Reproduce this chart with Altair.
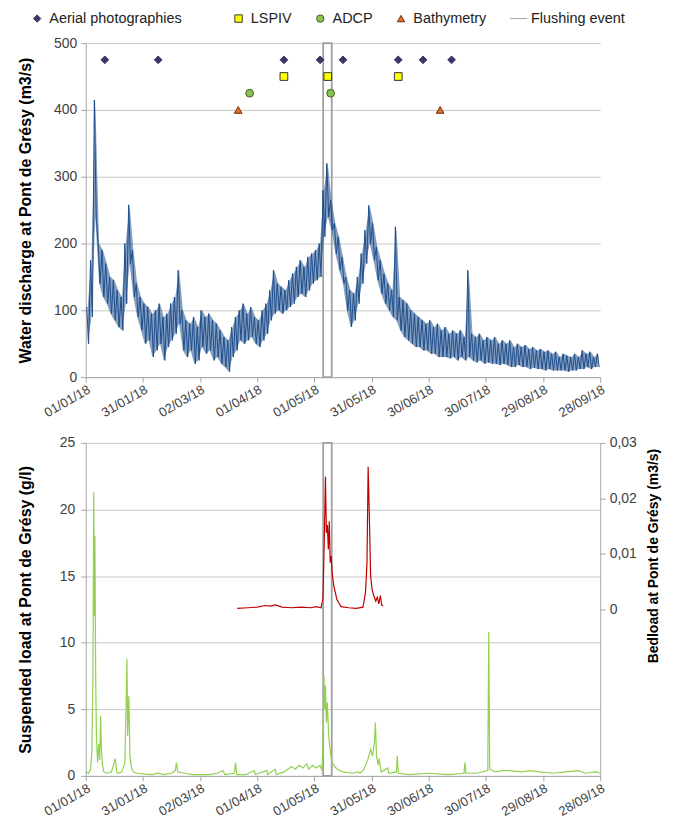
import altair as alt
import pandas as pd

# ---------------- data (x = days since 01/01/18) ----------------
# Water discharge: high / low envelope read for each 2-day block (m3/s)
Q_HIGH = [105, 175, 415, 200, 190, 170, 150, 145, 130, 120,
          200, 258, 190, 140, 120, 110, 105, 95, 100, 110,
          90, 95, 110, 120, 160, 100, 85, 80, 90, 75,
          100, 90, 95, 85, 80, 70, 60, 55, 75, 90,
          100, 110, 95, 105, 90, 85, 100, 110, 130, 160,
          140, 135, 130, 145, 155, 165, 175, 165, 180, 185,
          190, 200, 280, 320, 265, 230, 210, 180, 150, 130,
          125, 150, 185, 220, 257, 230, 195, 175, 155, 140,
          130, 225, 120, 115, 110, 100, 95, 90, 85, 80,
          85, 75, 80, 70, 75, 65, 70, 65, 70, 60,
          160, 65, 60, 65, 55, 60, 55, 60, 50, 55,
          50, 55, 45, 50, 45, 48, 42, 45, 40, 42,
          38, 40, 35, 38, 30, 35, 32, 30, 35, 30,
          40, 35, 38, 30, 35]
Q_LOW = [50, 90, 240, 140, 120, 110, 95, 85, 75, 70,
         110, 170, 120, 90, 70, 50, 55, 30, 40, 50,
         25, 45, 55, 65, 80, 40, 30, 40, 20, 25,
         45, 35, 40, 25, 30, 20, 15, 8, 30, 40,
         55, 50, 55, 60, 50, 45, 55, 65, 85, 95,
         100, 95, 100, 105, 110, 120, 125, 120, 130, 140,
         145, 150, 210, 240, 220, 185, 160, 140, 100, 75,
         85, 110, 140, 170, 200, 175, 145, 125, 110, 100,
         90, 85, 70, 60, 55, 50, 45, 45, 40, 40,
         35, 35, 30, 30, 30, 28, 30, 25, 30, 25,
         30, 25, 22, 25, 20, 22, 20, 20, 18, 20,
         18, 15, 15, 18, 15, 15, 12, 14, 12, 12,
         10, 12, 10, 10, 10, 10, 8, 10, 10, 12,
         12, 15, 12, 15, 15]

# Suspended load (g/l)
SS_DAY = [0, 1.5, 2.5, 3.2, 3.8, 4.2, 4.5, 4.8, 5.2, 5.6, 6.2, 6.8, 7.3, 7.8, 8.2,
          8.8, 9.5, 11, 13.5, 15.5, 16.2, 17, 19, 20.5, 21.2, 21.6, 22.0, 22.6, 23.2,
          24, 25, 27, 30, 35, 38, 41, 45, 47, 47.6, 48.2, 52, 56, 60, 65, 69, 72,
          73, 78, 78.6, 79.3, 84, 88.5, 89, 95, 95.5, 99.4, 100, 104, 106, 108, 110,
          112, 114, 116, 117, 119, 121, 123, 124, 124.5, 125, 125.4, 125.8, 126.3,
          126.8, 127.5, 128.2, 129, 130, 132, 135, 140, 143, 144, 146, 148, 149.5,
          150.5, 151.5, 152, 152.6, 153.5, 154, 155, 158.5, 159, 163, 163.5, 164,
          170, 180, 190, 198.5, 199, 199.5, 205, 211, 211.5, 212, 215, 219, 222,
          229, 233, 238, 245, 252, 258.5, 262, 268, 270]
SS_VAL = [0.3, 0.2, 0.5, 1.8, 8, 21.3, 12, 18, 7.5, 3, 1, 2.4, 1.2, 4.5, 2,
          0.8, 0.3, 0.2, 0.3, 1.3, 0.3, 0.2, 0.3, 1, 5.5, 8.8, 3, 6, 1.5,
          0.6, 0.3, 0.2, 0.15, 0.1, 0.2, 0.1, 0.2, 0.4, 1.0, 0.3, 0.2, 0.1, 0.1, 0.1, 0.2, 0.4,
          0.1, 0.2, 1.0, 0.1, 0.1, 0.4, 0.1, 0.4, 0.1, 0.5, 0.1, 0.3, 0.5, 0.7, 0.5,
          0.8, 0.6, 0.9, 0.5, 0.8, 0.6, 0.8, 0.4, 2.5, 7.5, 5, 6.8, 4,
          5.5, 3, 2, 1.2, 0.8, 0.5, 0.3, 0.2, 0.3, 0.2, 0.5, 1.2, 2.0,
          1.5, 2.5, 4.0, 1.5, 0.8, 1.3, 0.3, 0.6, 0.2, 0.3, 1.5, 0.2,
          0.1, 0.2, 0.1, 0.2, 1.0, 0.2, 0.2, 0.4, 10.8, 0.5, 0.3, 0.4, 0.4,
          0.3, 0.4, 0.3, 0.2, 0.3, 0.4, 0.2, 0.3, 0.2]

# Bedload (m3/s)
BL_DAY = [79.5, 85, 90, 94, 97, 99.5, 103, 108, 113, 118, 121, 123.5, 124.5, 125.3,
          125.8, 126.3, 126.8, 127.3, 127.8, 128.3, 128.8, 129.3, 130.2, 131, 131.8,
          132.6, 134, 138, 142, 145.5, 146.8, 147.6, 148.2, 148.8, 149.5, 150.3,
          151.2, 152.2, 153, 153.8, 154.6, 155.3, 156]
BL_VAL = [0.0002, 0.0003, 0.0004, 0.0007, 0.0006, 0.0008, 0.0004, 0.0003, 0.0004,
          0.0003, 0.0005, 0.0003, 0.002, 0.0144, 0.0239, 0.0138, 0.0152, 0.0108,
          0.0159, 0.0084, 0.0096, 0.0066, 0.0042, 0.003, 0.0018, 0.0013, 0.0005,
          0.0003, 0.0002, 0.0004, 0.003, 0.0084, 0.0257, 0.0174, 0.006, 0.0035,
          0.0024, 0.0015, 0.0022, 0.001, 0.0025, 0.0008, 0.0006]

# Field campaigns (day, plotted level)
AERIAL_DAY = [10, 38, 104, 123, 135, 164, 177, 192]
LSPIV_DAY = [104, 127, 164]
ADCP_DAY = [86, 128.5]
BATHY_DAY = [80, 186]
LEVELS = {"Aerial photographies": 475, "LSPIV": 450, "ADCP": 425, "Bathymetry": 400}

FLUSH_START = 124.6
FLUSH_END = 129.1

TYPES_A = ["Aerial photographies"]
FILLS_A = ["#3d3566"]
STROKES_A = ["#3d3566"]
SHAPES_A = ["diamond"]
TYPES_B = ["LSPIV", "ADCP", "Bathymetry", "Flushing event"]
FILLS_B = ["#ffff00", "#8cc152", "#e0702a", "transparent"]
STROKES_B = ["#333333", "#3f5f22", "#6b3210", "#a6a6a6"]
SHAPES_B = ["square", "circle", "triangle-up", "M-2.3,0L2.3,0"]

X_TICKS = [0, 30, 60, 90, 120, 150, 180, 210, 240, 270]

# ---------------- frames ----------------
q_rows = []
band_rows = []
for k, (hi, lo) in enumerate(zip(Q_HIGH, Q_LOW)):
    q_rows.append({"day": 2 * k + 0.5, "q": hi})
    q_rows.append({"day": 2 * k + 1.5, "q": lo})
    band_rows.append({"day": 2 * k + 1, "hi": hi, "lo": lo})
q_df = pd.DataFrame(q_rows)
band_df = pd.DataFrame(band_rows)
ss_df = pd.DataFrame({"day": SS_DAY, "ss": SS_VAL})
bl_df = pd.DataFrame({"day": BL_DAY, "bl": BL_VAL})
ev_a = pd.DataFrame({"day": AERIAL_DAY, "level": LEVELS["Aerial photographies"],
                     "typeA": "Aerial photographies"})
ev_rows = []
for name, days in [("LSPIV", LSPIV_DAY), ("ADCP", ADCP_DAY), ("Bathymetry", BATHY_DAY)]:
    for d in days:
        ev_rows.append({"day": d, "level": LEVELS[name], "typeB": name})
ev_b = pd.DataFrame(ev_rows)
fl_df = pd.DataFrame({"start": [FLUSH_START], "end": [FLUSH_END]})

FONT = "Liberation Sans"
W = 516
BLUE = "#1f4e8c"

xscale = alt.Scale(domain=[0, 270], nice=False, zero=False)
xaxis = alt.Axis(values=X_TICKS, title=None, grid=False, labelAngle=330,
                 labelExpr="timeFormat(datetime(2018,0,1+datum.value),'%d/%m/%y')",
                 labelFontSize=13, tickSize=5, labelPadding=1, labelFlush=False)

flush_rect = alt.Chart(fl_df).mark_rect(fillOpacity=0, stroke="#a0a0a0", strokeWidth=1.8).encode(
    x=alt.X("start:Q", scale=xscale, axis=xaxis),
    x2="end:Q",
)

# ---------------- top chart ----------------
yq = alt.Y("q:Q", scale=alt.Scale(domain=[0, 500], nice=False),
           axis=alt.Axis(values=list(range(0, 501, 50)), title="Water discharge at Pont de Grésy (m3/s)",
                         grid=True, tickSize=5, labelPadding=4, labelFontSize=14,
                         titleFontSize=16, titleFontWeight="bold", titleX=-52))

q_band = alt.Chart(band_df).mark_area(color=BLUE, opacity=0.55).encode(
    x=alt.X("day:Q", scale=xscale, axis=xaxis),
    y=alt.Y("lo:Q", scale=alt.Scale(domain=[0, 500], nice=False)),
    y2="hi:Q",
)

q_line = alt.Chart(q_df).mark_line(color=BLUE, strokeWidth=1).encode(
    x=alt.X("day:Q", scale=xscale, axis=xaxis),
    y=yq,
)


def leg(x, pad):
    return alt.Legend(title=None, orient="none", legendX=x, legendY=-32,
                      direction="horizontal", columns=5, columnPadding=pad,
                      labelFont=FONT, labelFontSize=14.5, labelColor="#222",
                      symbolSize=55, symbolStrokeWidth=1, padding=0, labelOffset=5)


events_a = alt.Chart(ev_a).mark_point(filled=True, opacity=1, strokeWidth=1, size=60).encode(
    x=alt.X("day:Q", scale=xscale, axis=xaxis),
    y=alt.Y("level:Q"),
    fill=alt.Fill("typeA:N", scale=alt.Scale(domain=TYPES_A, range=FILLS_A), legend=leg(-56, 24)),
    stroke=alt.Stroke("typeA:N", scale=alt.Scale(domain=TYPES_A, range=STROKES_A)),
    shape=alt.Shape("typeA:N", scale=alt.Scale(domain=TYPES_A, range=SHAPES_A)),
)

events_b = alt.Chart(ev_b).mark_point(filled=True, opacity=1, strokeWidth=1, size=60).encode(
    x=alt.X("day:Q", scale=xscale, axis=xaxis),
    y=alt.Y("level:Q"),
    fill=alt.Fill("typeB:N", scale=alt.Scale(domain=TYPES_B, range=FILLS_B), legend=leg(146, 21)),
    stroke=alt.Stroke("typeB:N", scale=alt.Scale(domain=TYPES_B, range=STROKES_B)),
    shape=alt.Shape("typeB:N", scale=alt.Scale(domain=TYPES_B, range=SHAPES_B)),
)

top = alt.layer(flush_rect, q_line, q_band, events_a, events_b).resolve_scale(
    fill="independent", stroke="independent", shape="independent"
).properties(width=W, height=335)

# ---------------- bottom chart ----------------
ss_line = alt.Chart(ss_df).mark_line(color="#92d050", strokeWidth=1.2).encode(
    x=alt.X("day:Q", scale=xscale, axis=xaxis),
    y=alt.Y("ss:Q", scale=alt.Scale(domain=[0, 25], nice=False),
            axis=alt.Axis(values=list(range(0, 26, 5)), title="Suspended load at Pont de Grésy (g/l)",
                          grid=True, tickSize=5, labelPadding=6, labelFontSize=14,
                          titleFontSize=16, titleFontWeight="bold", titleX=-52)),
)

bl_line = alt.Chart(bl_df).mark_line(color="#c00000", strokeWidth=1.2).encode(
    x=alt.X("day:Q", scale=xscale, axis=xaxis),
    y=alt.Y("bl:Q", scale=alt.Scale(domain=[-0.03, 0.03], nice=False, zero=False),
            axis=alt.Axis(orient="right", values=[0, 0.01, 0.02, 0.03],
                          labelExpr="datum.value == 0 ? '0' : replace(format(datum.value, '.2f'), '.', ',')",
                          title="Bedload at Pont de Grésy (m3/s)", grid=False, tickSize=5,
                          labelPadding=4, labelFontSize=14, titleFontSize=14,
                          titleFontWeight="bold", titleAngle=270, titleBaseline="top",
                          titleY=113, titlePadding=10)),
)

bottom = alt.layer(flush_rect, ss_line, bl_line).resolve_scale(y="independent").properties(
    width=W, height=334)

chart = alt.vconcat(top, bottom, spacing=16).properties(
    padding={"left": 10, "top": 2, "right": 5, "bottom": 0}
).configure_view(stroke=None).configure_axis(
    labelFont=FONT, titleFont=FONT, labelColor="#404040", titleColor="#000000",
    domainColor="#a6a6a6", tickColor="#a6a6a6", gridColor="#c8c8c8"
)

chart.save("out.html", embed_options={"renderer": "svg", "actions": False})
